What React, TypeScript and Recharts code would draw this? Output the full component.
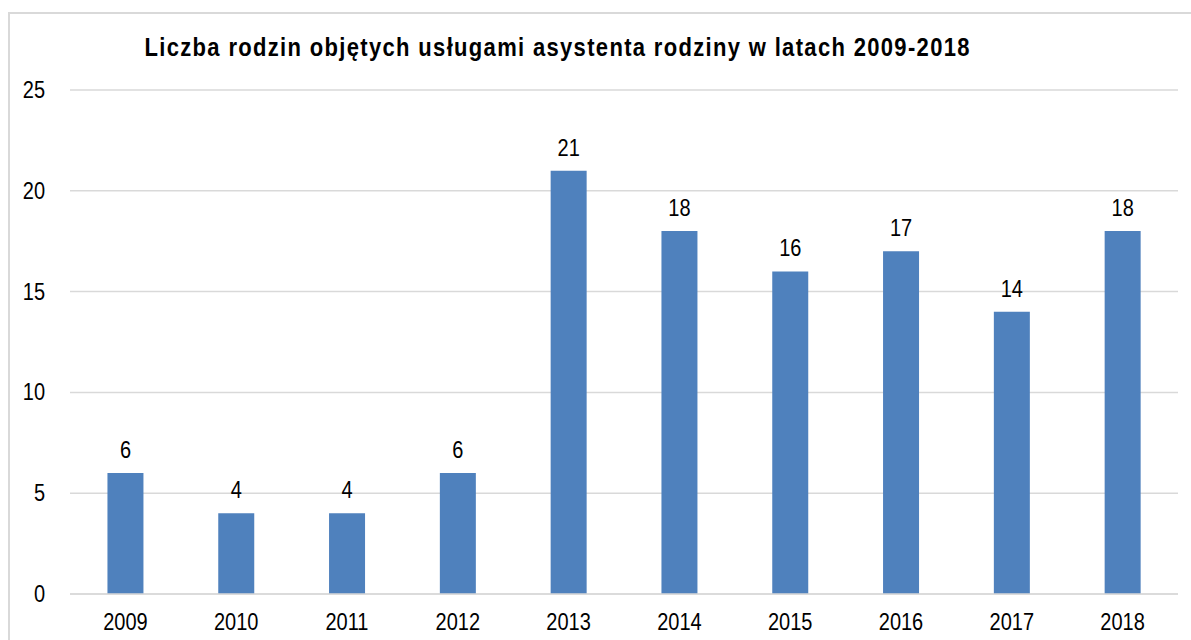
import { BarChart, Bar, XAxis, YAxis, CartesianGrid, LabelList } from 'recharts';

const years = ['2009', '2010', '2011', '2012', '2013', '2014', '2015', '2016', '2017', '2018'];
const families = [6, 4, 4, 6, 21, 18, 16, 17, 14, 18];
const yTicks = [0, 5, 10, 15, 20, 25];

const chartData = years.map((year, i) => ({ year, value: families[i] }));

const FONT = '"Liberation Sans", Arial, sans-serif';
const STRETCH = 1.15;

const XTick = ({ x, y, payload }: any) => (
  <g transform={`translate(${x},${y}) scale(1,${STRETCH})`}>
    <text textAnchor="middle" y={26} fontSize={20} fontFamily={FONT} fill="#000">
      {payload.value}
    </text>
  </g>
);

const YTick = ({ x, y, payload }: any) => (
  <g transform={`translate(${x},${y}) scale(1,${STRETCH})`}>
    <text textAnchor="end" y={7} fontSize={20} fontFamily={FONT} fill="#000">
      {payload.value}
    </text>
  </g>
);

const ValueLabel = ({ x, y, width, value }: any) => (
  <g transform={`translate(${x + width / 2},${y - 15}) scale(1,${STRETCH})`}>
    <text textAnchor="middle" fontSize={20} fontFamily={FONT} fill="#000">
      {value}
    </text>
  </g>
);

export default function App() {
  return (
    <div style={{ position: 'fixed', left: 0, top: 0, width: 1191, height: 640, background: '#fff', overflow: 'hidden' }}>
      <div
        style={{
          position: 'absolute',
          left: 8,
          top: 12,
          width: 1300,
          height: 800,
          borderLeft: '2px solid #d9d9d9',
          borderTop: '2px solid #d9d9d9',
        }}
      />
      <svg width={1191} height={80} style={{ position: 'absolute', left: 0, top: 0 }}>
        <g transform={`translate(557,56) scale(1,${STRETCH})`}>
          <text
            x={0}
            y={0}
            textAnchor="middle"
            fontSize={22}
            fontWeight="bold"
            fontFamily={FONT}
            fill="#000"
            textLength={825}
            lengthAdjust="spacing"
          >
            Liczba rodzin objętych usługami asystenta rodziny w latach 2009-2018
          </text>
        </g>
      </svg>
      <div style={{ position: 'absolute', left: 0, top: 0 }}>
        <BarChart
          width={1191}
          height={640}
          data={chartData}
          margin={{ top: 90, right: 13, bottom: 16, left: 0 }}
          barCategoryGap="33.8%"
        >
          <CartesianGrid vertical={false} stroke="#d9d9d9" strokeWidth={1.5} />
          <XAxis
            dataKey="year"
            height={30}
            axisLine={{ stroke: '#d9d9d9', strokeWidth: 1.5 }}
            tickLine={false}
            tickMargin={0}
            tick={<XTick />}
            interval={0}
          />
          <YAxis
            width={70}
            domain={[0, 25]}
            ticks={yTicks}
            axisLine={false}
            tickLine={false}
            tickMargin={19}
            tick={<YTick />}
          />
          <Bar dataKey="value" fill="#4f81bd" isAnimationActive={false}>
            <LabelList dataKey="value" content={<ValueLabel />} />
          </Bar>
        </BarChart>
      </div>
    </div>
  );
}
